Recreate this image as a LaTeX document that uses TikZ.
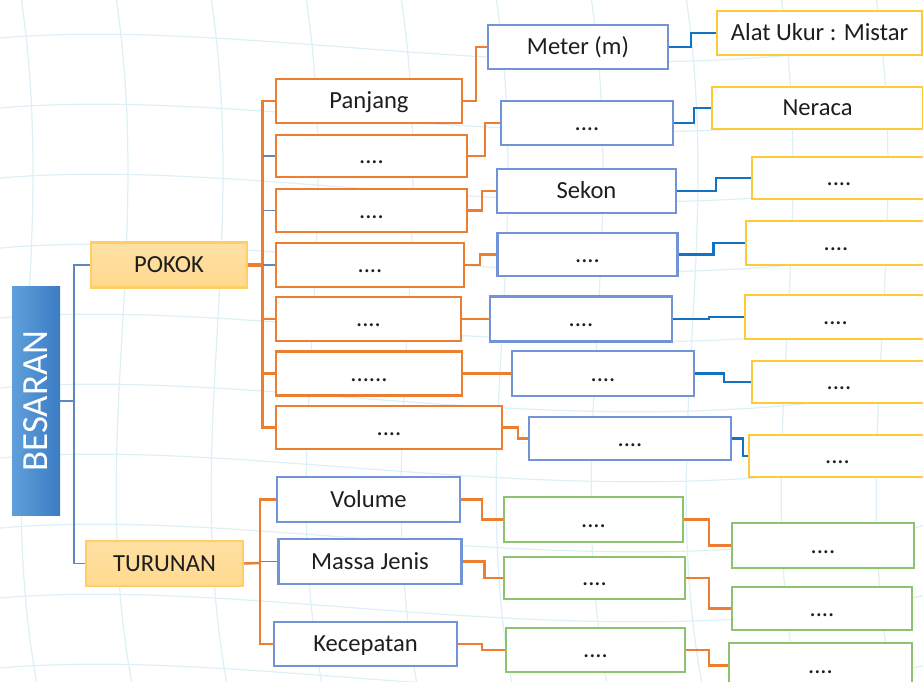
\documentclass[tikz,border=0pt]{standalone}
\usepackage{fontspec}
\setmainfont{Carlito}
\definecolor{oline}{HTML}{ED7D31}
\definecolor{bline}{HTML}{1472C2}
\definecolor{thinb}{HTML}{5E86C0}
\definecolor{ubox}{HTML}{7393D9}
\definecolor{gold}{HTML}{FFCA3A}
\definecolor{gbox}{HTML}{8DC26F}
\definecolor{pfill}{HTML}{FFD98E}
\definecolor{pdraw}{HTML}{FFCF66}
\definecolor{bleft}{HTML}{5FA0DB}
\definecolor{bright}{HTML}{3B7CC4}
\definecolor{mesh}{HTML}{DDF0F6}
\definecolor{txt}{HTML}{1E1E1E}
\tikzset{
  bx/.style 2 args={minimum width=#1*0.02cm, minimum height=#2*0.02cm},
  box/.style={draw, line width=1.3pt, fill=white, inner sep=0pt, text=txt,
    font=\fontsize{14}{16}\selectfont, text height=11pt, text depth=2pt},
  obox/.style={box, draw=oline},
  ubox/.style={box, draw=ubox},
  tbox/.style={box, draw=gold},
  gbox/.style={box, draw=gbox},
  kind/.style={box, draw=pdraw, top color=pfill!80!white, bottom color=pfill},
  olink/.style={draw=oline, line width=1.4pt},
  blink/.style={draw=bline, line width=1.4pt},
  thinlink/.style={draw=thinb, line width=0.8pt},
  meshline/.style={draw=mesh, line width=0.7pt}
}
\begin{document}
\begin{tikzpicture}[x=0.02cm, y=-0.02cm]
  \useasboundingbox (0,0) rectangle (923,682);
  \begin{scope}
    \clip (0,0) rectangle (923,682);
    \foreach \k in {0,...,9}
      \draw[meshline] (-20,40+70*\k) .. controls (250,10+70*\k) and (600,110+70*\k) .. (950,30+70*\k);
    \foreach \k in {0,...,10}
      \draw[meshline] (20+95*\k,-10) .. controls (60+95*\k,250) and (-10+95*\k,450) .. (40+95*\k,700);
  \end{scope}

  \node[bx={48}{228}, left color=bleft, right color=bright, inner sep=0pt] (bes) at (36,401) {};
  \node[rotate=90, text=white, font=\fontsize{21}{21}\selectfont] at (bes.center) {BESARAN};
  \node[kind, bx={156}{45}] (pokok) at (169,265) {POKOK};
  \node[kind, bx={157}{45}] (turunan) at (164.5,563.5) {TURUNAN};

  \node[obox, bx={186}{44}] (p1) at (369,101) {Panjang};
  \node[obox, bx={191}{42}] (p2) at (371.5,156) {....};
  \node[obox, bx={191}{43}] (p3) at (371.5,210.5) {....};
  \node[obox, bx={188}{44}] (p4) at (370,265) {....};
  \node[obox, bx={185}{44}] (p5) at (368.5,319) {....};
  \node[obox, bx={186}{44}] (p6) at (369,373.5) {......};
  \node[obox, bx={226}{43}] (p7) at (389,427.5) {....};

  \node[ubox, bx={180}{44}] (u1) at (578,47) {Meter (m)};
  \node[ubox, bx={172}{44}] (u2) at (587,123) {....};
  \node[ubox, bx={179}{44}] (u3) at (586.5,191) {Sekon};
  \node[ubox, bx={180}{43}] (u4) at (587.5,254.5) {....};
  \node[ubox, bx={182}{45}] (u5) at (581,319) {....};
  \node[ubox, bx={182}{45}] (u6) at (603,373.5) {....};
  \node[ubox, bx={202}{43}] (u7) at (630,438.5) {....};

  \node[tbox, bx={205}{44}] (t1) at (819.5,33) {Alat Ukur : Mistar};
  \node[tbox, bx={211}{42}] (t2) at (817.5,108) {Neraca};
  \node[tbox, bx={174}{42}] (t3) at (839,178) {....};
  \node[tbox, bx={180}{44}] (t4) at (836,243) {....};
  \node[tbox, bx={181}{44}] (t5) at (835.5,317) {....};
  \node[tbox, bx={174}{42}] (t6) at (839,382) {....};
  \node[tbox, bx={177}{42}] (t7) at (837.5,456) {....};

  \node[ubox, bx={183}{45}] (d1) at (368.5,499.5) {Volume};
  \node[ubox, bx={183}{45}] (d2) at (370,561.5) {Massa Jenis};
  \node[ubox, bx={183}{44}] (d3) at (365.5,644) {Kecepatan};

  \node[gbox, bx={179}{45}] (g1) at (593.5,519.5) {....};
  \node[gbox, bx={181}{42}] (g2) at (594.5,578) {....};
  \node[gbox, bx={179}{44}] (g3) at (595.5,650) {....};
  \node[gbox, bx={182}{45}] (h1) at (823,545.5) {....};
  \node[gbox, bx={180}{43}] (h2) at (822,608.5) {....};
  \node[gbox, bx={183}{45}] (h3) at (820.5,665.5) {....};

  \coordinate (besj) at (74,401);
  \coordinate (pspine) at (262.5,265);
  \coordinate (tspine) at (260,563);

  \draw[thinlink] (bes.east) -- (besj);
  \draw[thinlink] (pokok.west) -| (besj) |- (turunan.west);

  \draw[olink, line width=2.6pt] (pokok.east) -- (pspine);
  \draw[olink] (p1.west) -| (pspine);
  \draw[olink] (p7.west) -| (pspine);
  \draw[olink] (p5.west) -- (p5.west -| pspine);
  \draw[olink] (p6.west) -- (p6.west -| pspine);
  \draw[thinlink] (p2.west) -- (p2.west -| pspine);
  \draw[thinlink] (p3.west) -- (p3.west -| pspine);
  \draw[thinlink] (p4.west) -- (p4.west -| pspine);

  \draw[olink] (p1.east) -- ++(13,0) |- (u1.west);
  \draw[olink] (p2.east) -- ++(17,0) |- (u2.west);
  \draw[olink] (p3.east) -- ++(14,0) |- (u3.west);
  \draw[olink] (p4.east) -- ++(15,0) |- (u4.west);
  \draw[olink] (p5.east) -- (u5.west);
  \draw[olink] (p6.east) -- (u6.west);
  \draw[olink] (p7.east) -- ++(15,0) |- (u7.west);

  \draw[blink] (u1.east) -- ++(22,0) |- (t1.west);
  \draw[blink] (u2.east) -- ++(20,0) |- (t2.west);
  \draw[blink] (u3.east) -- ++(39,0) |- (t3.west);
  \draw[blink] (u4.east) -- ++(35,0) |- (t4.west);
  \draw[blink] (u5.east) -- ++(36,0) |- (t5.west);
  \draw[blink] (u6.east) -- ++(29,0) |- (t6.west);
  \draw[blink] (u7.east) -- ++(11,0) |- (t7.west);

  \draw[olink] (turunan.east) -- (tspine);
  \draw[olink] (d1.west) -| (tspine);
  \draw[olink] (d3.west) -| (tspine);
  \draw[thinlink] (d2.west) -- (d2.west -| tspine);

  \draw[olink] (d1.east) -- ++(21,0) |- (g1.west);
  \draw[olink] (d2.east) -- ++(22,0) |- (g2.west);
  \draw[olink] (d3.east) -- ++(24,0) |- (g3.west);
  \draw[olink] (g1.east) -- ++(25,0) |- (h1.west);
  \draw[olink] (g2.east) -- ++(23,0) |- (h2.west);
  \draw[olink] (g3.east) -- ++(23,0) |- (h3.west);
\end{tikzpicture}
\end{document}
